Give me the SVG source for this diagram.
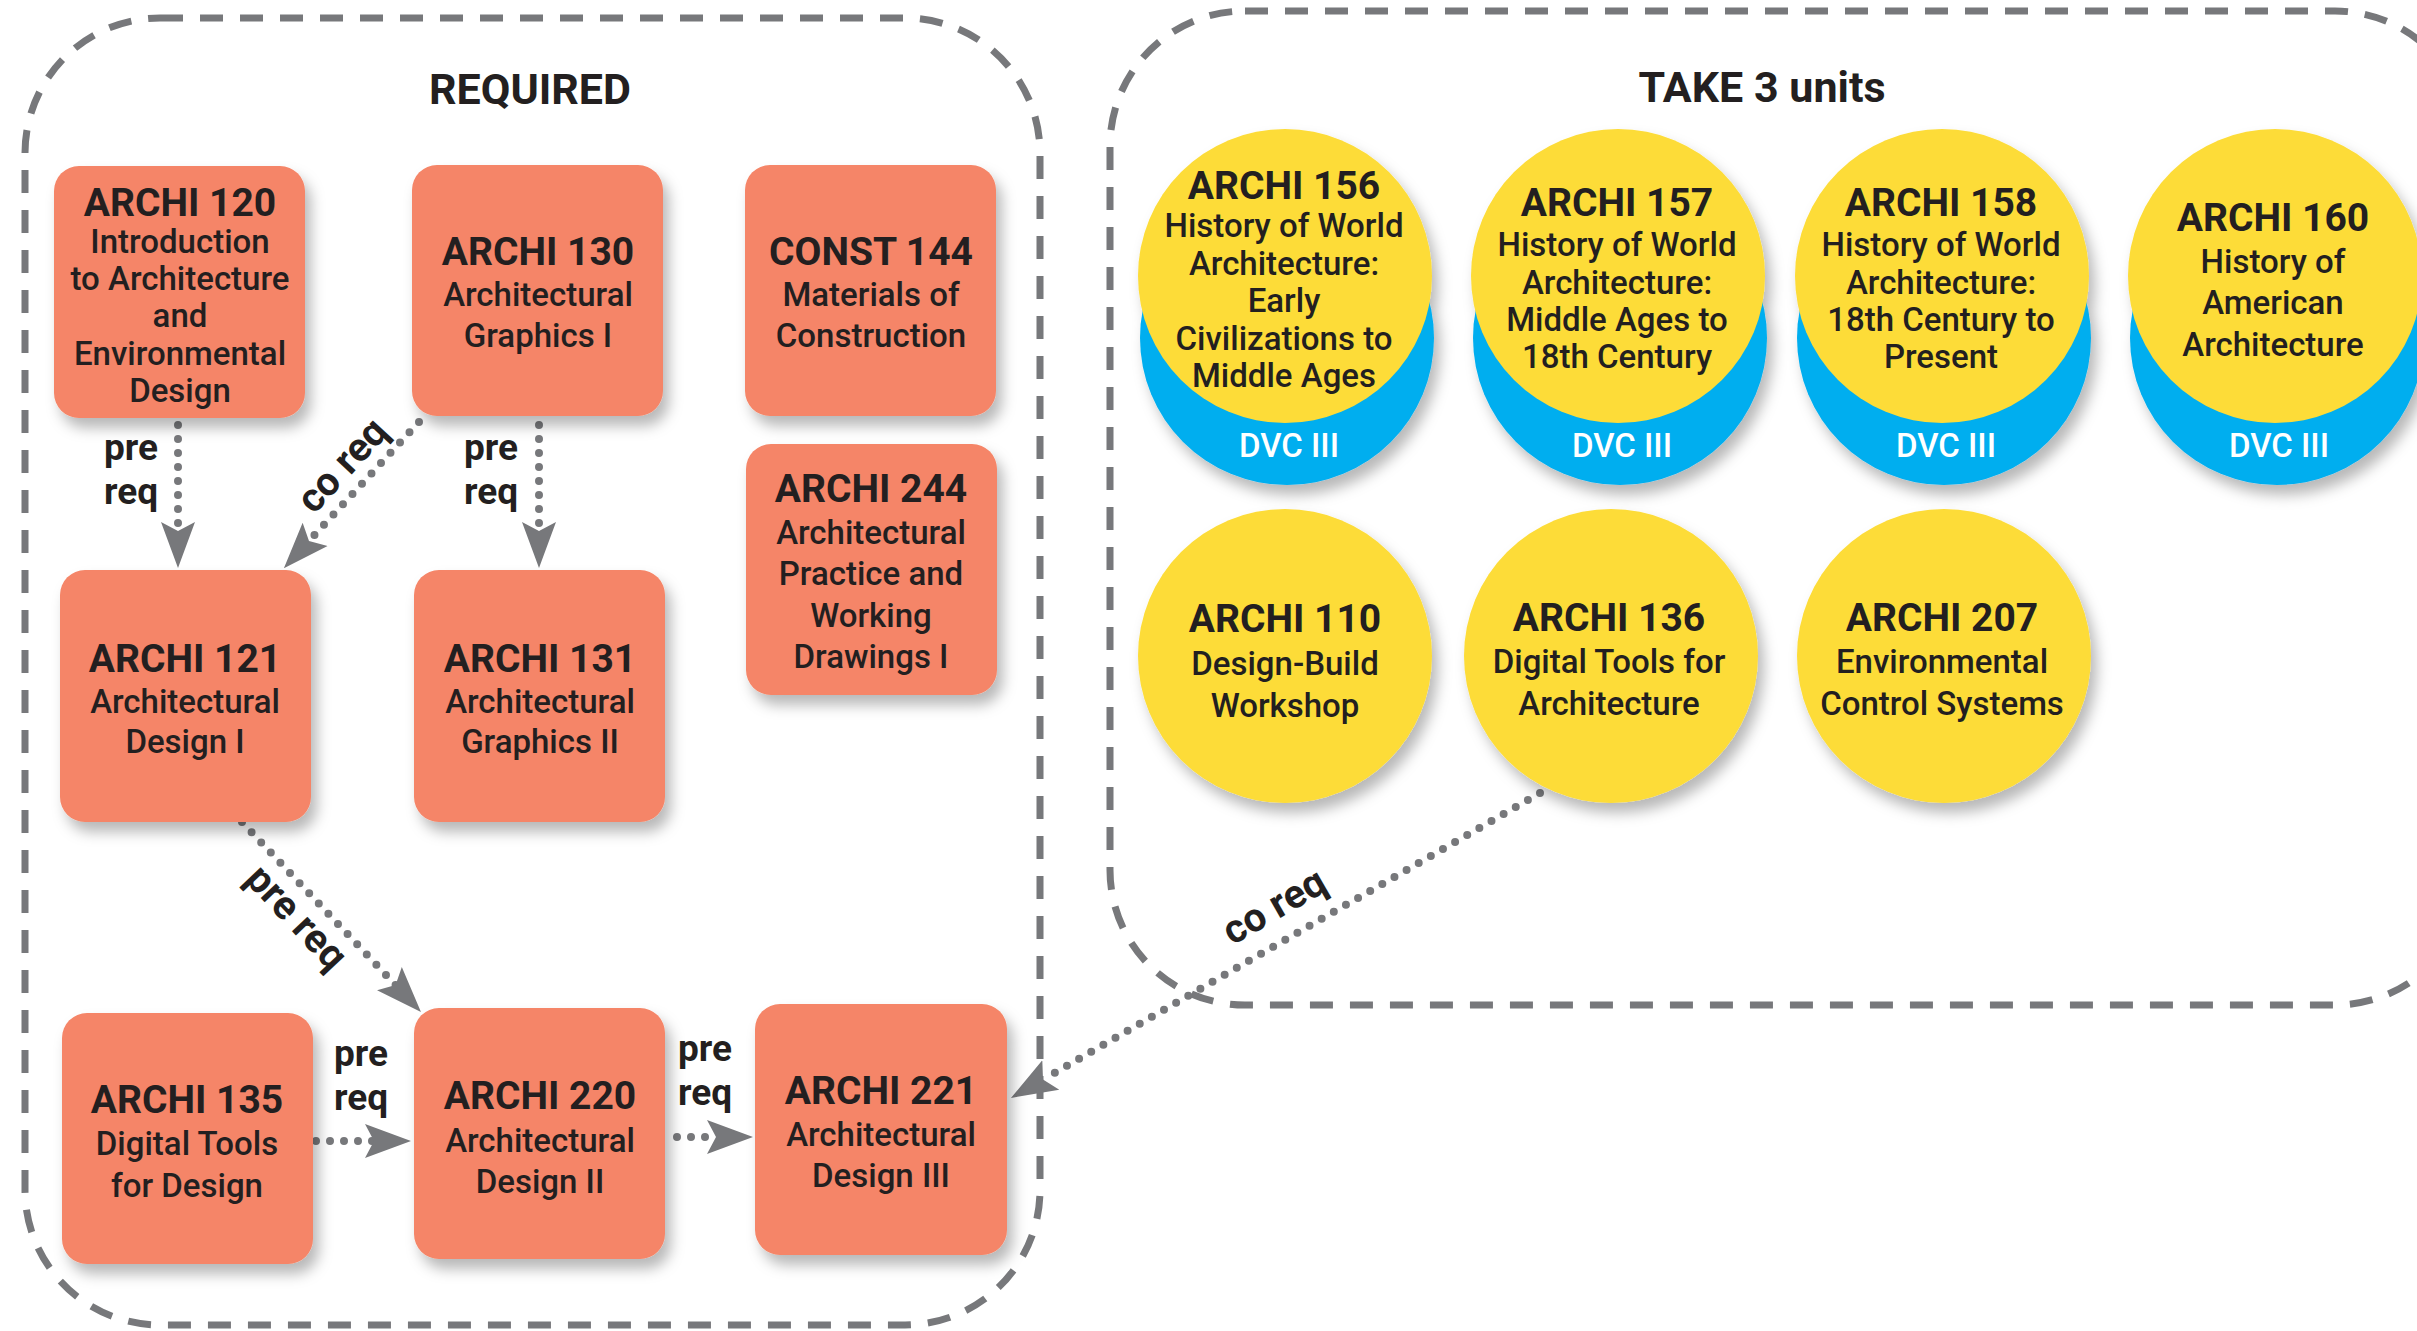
<svg xmlns="http://www.w3.org/2000/svg" width="2417" height="1331" viewBox="0 0 2417 1331">
<style>
.cont{fill:none;stroke:#77787b;stroke-width:7;stroke-dasharray:23 17}
.box{fill:#f58567}
.yel{fill:#fddc38}
.blu{fill:#00aeef}
text{font-family:Roboto,"Liberation Sans",sans-serif;fill:#231f20;text-anchor:middle}
.t{font-size:39px;font-weight:700}
.s{font-size:33px;font-weight:500}
.h{font-size:43px;font-weight:700}
.lab{font-size:40px;font-weight:700}
.lab2{font-size:37px;font-weight:700}
.dvc{font-size:33px;font-weight:500;fill:#fff}
.con{fill:none;stroke:#77787b;stroke-width:8;stroke-linecap:round;stroke-dasharray:0 14}
</style>
<defs>
<filter id="sh" x="-20%" y="-20%" width="150%" height="150%">
<feDropShadow dx="6" dy="10" stdDeviation="7" flood-color="#000" flood-opacity="0.28"/>
</filter>
<marker id="arr" markerUnits="userSpaceOnUse" markerWidth="50" markerHeight="40" viewBox="0 -20 50 40" refX="9" refY="0" orient="auto">
<path d="M0,-17 L46,0 L0,17 L9,0 Z" fill="#77787b"/>
</marker>
</defs>
<rect width="2417" height="1331" fill="#fff"/>

<g id="required-group">
<rect class="cont" x="25" y="18" width="1015" height="1307" rx="135"/>
<text class="h" x="530" y="104">REQUIRED</text>
</g>
<g id="take3-group">
<rect class="cont" x="1110" y="11" width="1360" height="994" rx="135"/>
<text class="h" x="1762" y="102">TAKE 3 units</text>
</g>

<g id="connectors">
<path class="con" d="M178,425 L178,531" marker-end="url(#arr)"/>
<path class="con" d="M539,425 L539,531" marker-end="url(#arr)"/>
<path class="con" d="M419,422 L309,541" marker-end="url(#arr)"/>
<path class="con" d="M242,822 L395.6,985.1" marker-end="url(#arr)"/>
<path class="con" d="M316,1141 L374,1141" marker-end="url(#arr)"/>
<path class="con" d="M677,1137 L716,1137" marker-end="url(#arr)"/>
<path class="con" d="M1540,793 L1043,1079.5" marker-end="url(#arr)"/>
<text class="lab2" x="131" y="460">pre</text>
<text class="lab2" x="131" y="504">req</text>
<text class="lab2" x="491" y="460">pre</text>
<text class="lab2" x="491" y="504">req</text>
<text class="lab2" x="361" y="1066">pre</text>
<text class="lab2" x="361" y="1110">req</text>
<text class="lab2" x="705" y="1061">pre</text>
<text class="lab2" x="705" y="1105">req</text>
<text class="lab" dominant-baseline="central" transform="translate(342,465) rotate(-47.2)">co req</text>
<text class="lab" dominant-baseline="central" transform="translate(297,917) rotate(46.7)">pre req</text>
<text class="lab" dominant-baseline="central" transform="translate(1274,906) rotate(-30)">co req</text>
</g>

<g id="archi120">
<rect class="box" filter="url(#sh)" x="54" y="166" width="251" height="252" rx="25"/>
<text class="t" x="180" y="216">ARCHI 120</text>
<text class="s" x="180" y="253">Introduction</text>
<text class="s" x="180" y="290">to Architecture</text>
<text class="s" x="180" y="327">and</text>
<text class="s" x="180" y="365">Environmental</text>
<text class="s" x="180" y="402">Design</text>
</g>
<g id="archi130">
<rect class="box" filter="url(#sh)" x="412" y="165" width="251" height="251" rx="25"/>
<text class="t" x="538" y="265">ARCHI 130</text>
<text class="s" x="538" y="306">Architectural</text>
<text class="s" x="538" y="347">Graphics I</text>
</g>
<g id="const144">
<rect class="box" filter="url(#sh)" x="745" y="165" width="251" height="251" rx="25"/>
<text class="t" x="871" y="265">CONST 144</text>
<text class="s" x="871" y="306">Materials of</text>
<text class="s" x="871" y="347">Construction</text>
</g>
<g id="archi244">
<rect class="box" filter="url(#sh)" x="746" y="444" width="251" height="251" rx="25"/>
<text class="t" x="871" y="502">ARCHI 244</text>
<text class="s" x="871" y="544">Architectural</text>
<text class="s" x="871" y="585">Practice and</text>
<text class="s" x="871" y="627">Working</text>
<text class="s" x="871" y="668">Drawings I</text>
</g>
<g id="archi121">
<rect class="box" filter="url(#sh)" x="60" y="570" width="251" height="252" rx="25"/>
<text class="t" x="185" y="672">ARCHI 121</text>
<text class="s" x="185" y="713">Architectural</text>
<text class="s" x="185" y="753">Design I</text>
</g>
<g id="archi131">
<rect class="box" filter="url(#sh)" x="414" y="570" width="251" height="252" rx="25"/>
<text class="t" x="540" y="672">ARCHI 131</text>
<text class="s" x="540" y="713">Architectural</text>
<text class="s" x="540" y="753">Graphics II</text>
</g>
<g id="archi135">
<rect class="box" filter="url(#sh)" x="62" y="1013" width="251" height="251" rx="25"/>
<text class="t" x="187" y="1113">ARCHI 135</text>
<text class="s" x="187" y="1155">Digital Tools</text>
<text class="s" x="187" y="1197">for Design</text>
</g>
<g id="archi220">
<rect class="box" filter="url(#sh)" x="414" y="1008" width="251" height="251" rx="25"/>
<text class="t" x="540" y="1109">ARCHI 220</text>
<text class="s" x="540" y="1152">Architectural</text>
<text class="s" x="540" y="1193">Design II</text>
</g>
<g id="archi221">
<rect class="box" filter="url(#sh)" x="755" y="1004" width="252" height="251" rx="25"/>
<text class="t" x="881" y="1104">ARCHI 221</text>
<text class="s" x="881" y="1146">Architectural</text>
<text class="s" x="881" y="1187">Design III</text>
</g>

<g id="archi156">
<g filter="url(#sh)">
<circle class="blu" cx="1287" cy="338" r="147"/>
<circle class="yel" cx="1285" cy="276" r="147"/>
</g>
<text class="t" x="1284" y="199">ARCHI 156</text>
<text class="s" x="1284" y="237">History of World</text>
<text class="s" x="1284" y="275">Architecture:</text>
<text class="s" x="1284" y="312">Early</text>
<text class="s" x="1284" y="350">Civilizations to</text>
<text class="s" x="1284" y="387">Middle Ages</text>
<text class="dvc" x="1289" y="457">DVC III</text>
</g>
<g id="archi157">
<g filter="url(#sh)">
<circle class="blu" cx="1620" cy="338" r="147"/>
<circle class="yel" cx="1618" cy="276" r="147"/>
</g>
<text class="t" x="1617" y="216">ARCHI 157</text>
<text class="s" x="1617" y="256">History of World</text>
<text class="s" x="1617" y="294">Architecture:</text>
<text class="s" x="1617" y="331">Middle Ages to</text>
<text class="s" x="1617" y="368">18th Century</text>
<text class="dvc" x="1622" y="457">DVC III</text>
</g>
<g id="archi158">
<g filter="url(#sh)">
<circle class="blu" cx="1944" cy="338" r="147"/>
<circle class="yel" cx="1942" cy="276" r="147"/>
</g>
<text class="t" x="1941" y="216">ARCHI 158</text>
<text class="s" x="1941" y="256">History of World</text>
<text class="s" x="1941" y="294">Architecture:</text>
<text class="s" x="1941" y="331">18th Century to</text>
<text class="s" x="1941" y="368">Present</text>
<text class="dvc" x="1946" y="457">DVC III</text>
</g>
<g id="archi160">
<g filter="url(#sh)">
<circle class="blu" cx="2277" cy="338" r="147"/>
<circle class="yel" cx="2275" cy="276" r="147"/>
</g>
<text class="t" x="2273" y="231">ARCHI 160</text>
<text class="s" x="2273" y="273">History of</text>
<text class="s" x="2273" y="314">American</text>
<text class="s" x="2273" y="356">Architecture</text>
<text class="dvc" x="2279" y="457">DVC III</text>
</g>
<g id="archi110">
<circle class="yel" filter="url(#sh)" cx="1285" cy="656" r="147"/>
<text class="t" x="1285" y="632">ARCHI 110</text>
<text class="s" x="1285" y="675">Design-Build</text>
<text class="s" x="1285" y="717">Workshop</text>
</g>
<g id="archi136">
<circle class="yel" filter="url(#sh)" cx="1611" cy="656" r="147"/>
<text class="t" x="1609" y="631">ARCHI 136</text>
<text class="s" x="1609" y="673">Digital Tools for</text>
<text class="s" x="1609" y="715">Architecture</text>
</g>
<g id="archi207">
<circle class="yel" filter="url(#sh)" cx="1944" cy="656" r="147"/>
<text class="t" x="1942" y="631">ARCHI 207</text>
<text class="s" x="1942" y="673">Environmental</text>
<text class="s" x="1942" y="715">Control Systems</text>
</g>
</svg>
